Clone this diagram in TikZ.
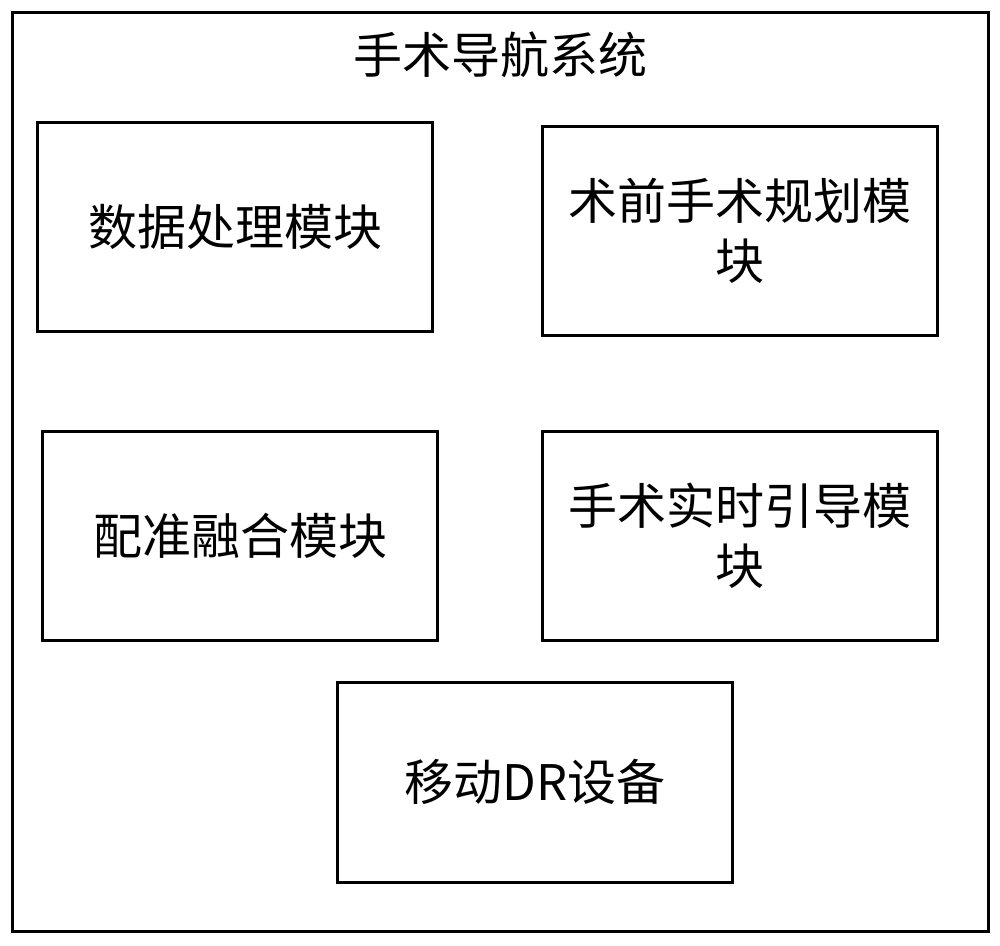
\documentclass[tikz,border=0pt]{standalone}
\usepackage{fontspec}
\setmainfont{Noto Sans CJK SC}
\begin{document}
\begin{tikzpicture}[x=1pt,y=-1pt,
  frame/.style={draw=black,line width=3pt},
  modbox/.style={draw=black,line width=3pt,minimum width=395pt,minimum height=209pt,inner sep=0pt,align=center,font=\fontsize{49}{60}\selectfont},
  ttl/.style={font=\fontsize{49}{56}\selectfont,inner sep=0pt}]
\useasboundingbox (0,0) rectangle (1000,945);
\draw[frame] (12,12) rectangle (988,931);
\node[ttl] (title) at (500,55) {手术导航系统};
\node[modbox] (dp) at (235,227) {数据处理模块};
\node[modbox] (plan) at (740,231) {术前手术规划模\\块};
\node[modbox] (reg) at (240,536) {配准融合模块};
\node[modbox] (guide) at (740,536) {手术实时引导模\\块};
\node[modbox,minimum height=200pt] (dr) at (535,782) {移动DR设备};
\end{tikzpicture}
\end{document}
